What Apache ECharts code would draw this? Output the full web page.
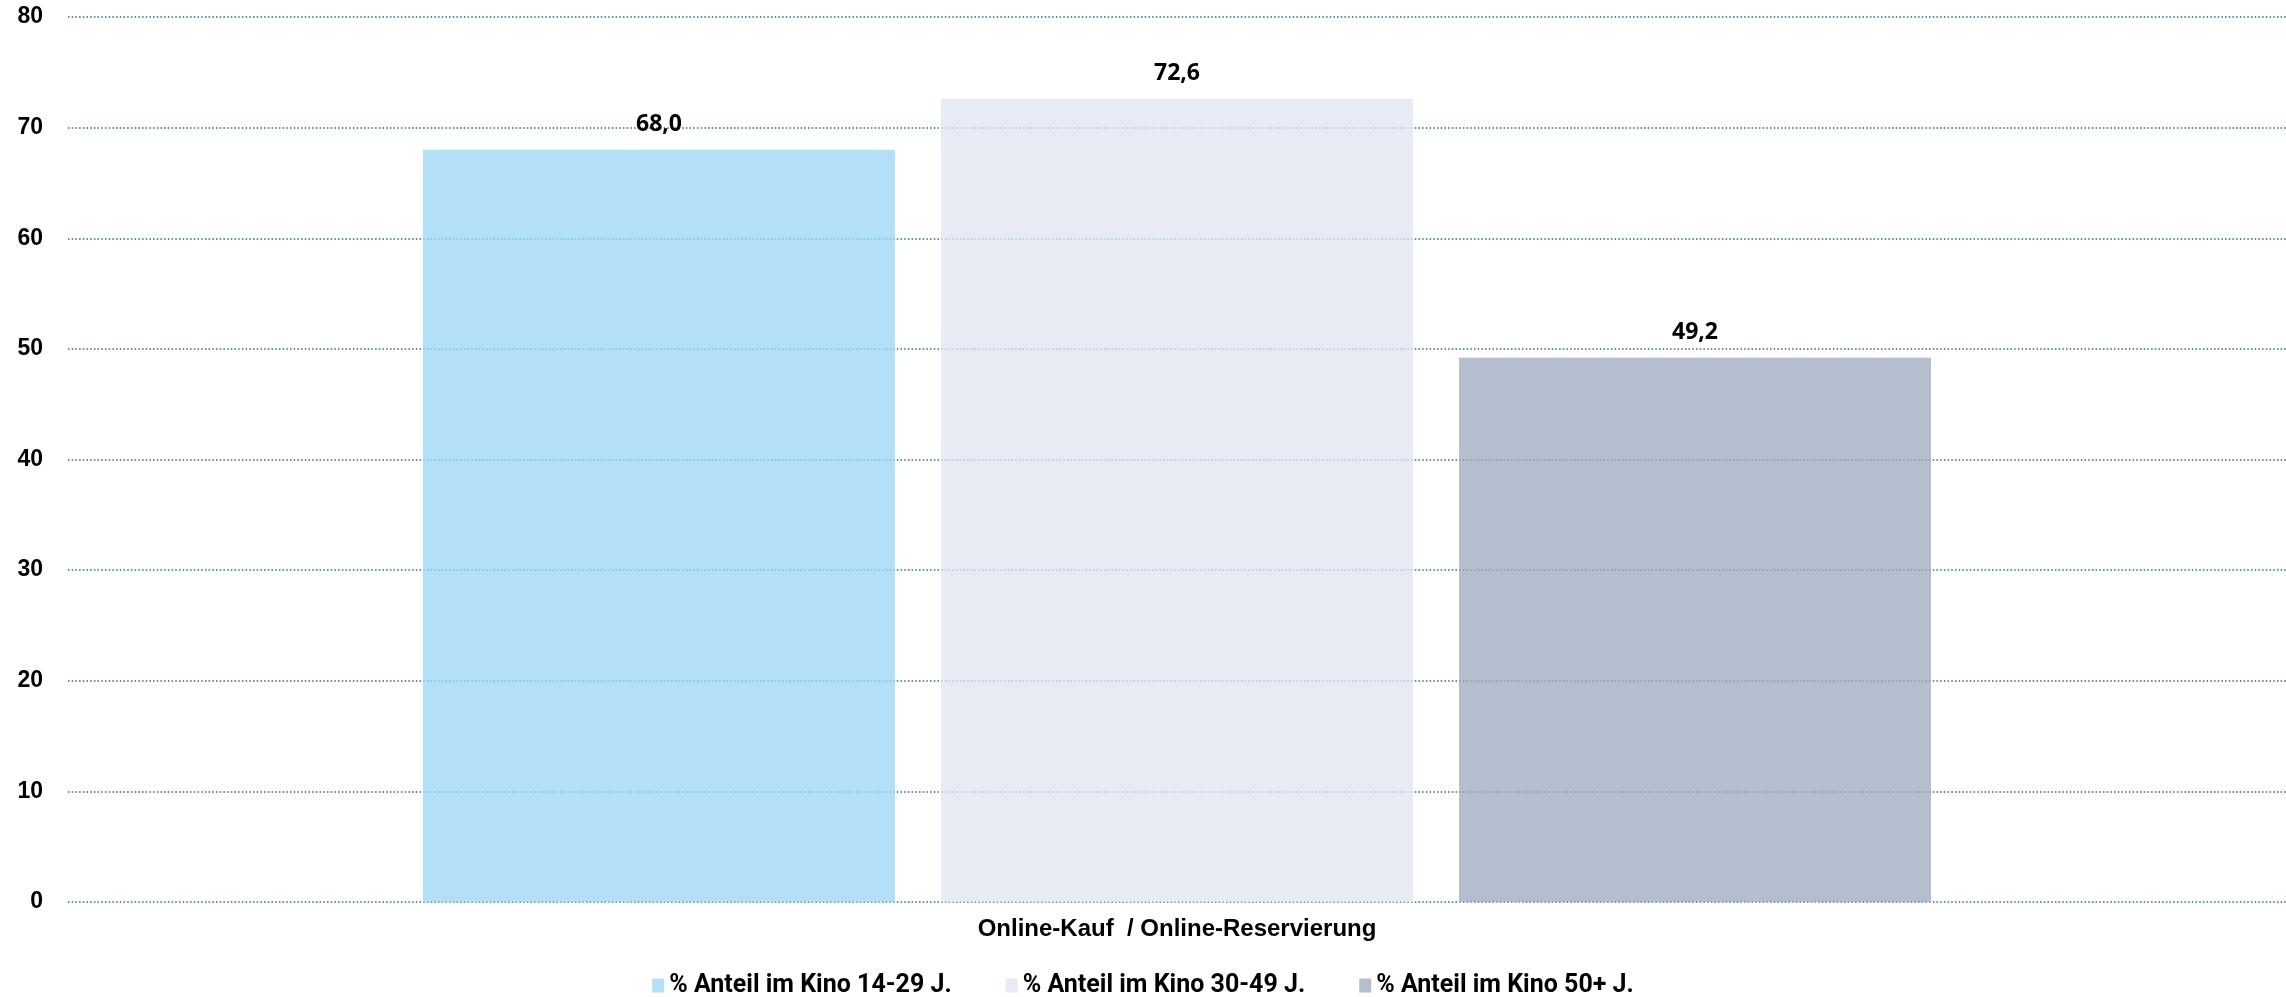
<!DOCTYPE html>
<html>
<head>
<meta charset="utf-8">
<script src="https://cdn.jsdelivr.net/npm/echarts@6/dist/echarts.min.js"></script>
<style>
html,body{margin:0;padding:0;background:#fff;}
#chart{width:2286px;height:997px;}
</style>
</head>
<body>
<div id="chart"></div>
<script>
const categories = ['Online-Kauf  / Online-Reservierung'];
const seriesNames = ['% Anteil im Kino 14-29 J.', '% Anteil im Kino 30-49 J.', '% Anteil im Kino 50+ J.'];
const values1429 = [68.0];
const values3049 = [72.6];
const values50plus = [49.2];
const seriesValues = [values1429, values3049, values50plus];
const colors = ['rgba(154,214,243,0.75)', 'rgba(222,228,240,0.75)', 'rgba(156,168,191,0.75)'];
const legendColors = ['#B3E0F6', '#E6EBF4', '#B5BECF'];

const chart = echarts.init(document.getElementById('chart'));
const labelFont = "'Open Sans', 'Noto Sans', sans-serif";
chart.setOption({
  animation: false,
  backgroundColor: '#ffffff',
  grid: { left: 68, right: 0, top: 17, bottom: 95, containLabel: false },
  legend: {
    top: 968,
    left: 'center',
    itemWidth: 12,
    itemHeight: 14,
    itemGap: 54,
    icon: 'rect',
    textStyle: { fontFamily: "Roboto, sans-serif", fontWeight: 'bold', fontSize: 25, color: '#000' },
    data: seriesNames.map((n, i) => ({ name: n, itemStyle: { color: legendColors[i] } }))
  },
  xAxis: {
    type: 'category',
    data: categories,
    axisLine: { show: false },
    axisTick: { show: false },
    axisLabel: { margin: 15, fontFamily: "'Liberation Sans', Arial, sans-serif", fontWeight: 'bold', fontSize: 24, color: '#000' }
  },
  yAxis: {
    type: 'value',
    min: 0, max: 80, interval: 10,
    axisLine: { show: false },
    axisTick: { show: false },
    axisLabel: { margin: 25, fontFamily: "'Liberation Sans', Arial, sans-serif", fontWeight: 'bold', fontSize: 23, color: '#000' },
    splitLine: { show: true, lineStyle: { color: '#2a6f74', width: 1.5, type: [1.5, 2.2] } }
  },
  series: seriesNames.map((name, i) => ({
    name: name,
    type: 'bar',
    data: seriesValues[i],
    barWidth: 472,
    barGap: '9.75%',
    itemStyle: { color: colors[i] },
    label: {
      show: true,
      position: 'top',
      distance: 14,
      fontFamily: labelFont,
      fontWeight: 'bold',
      fontSize: 23,
      color: '#000',
      formatter: p => p.value.toFixed(1).replace('.', ',')
    }
  }))
});
</script>
</body>
</html>
